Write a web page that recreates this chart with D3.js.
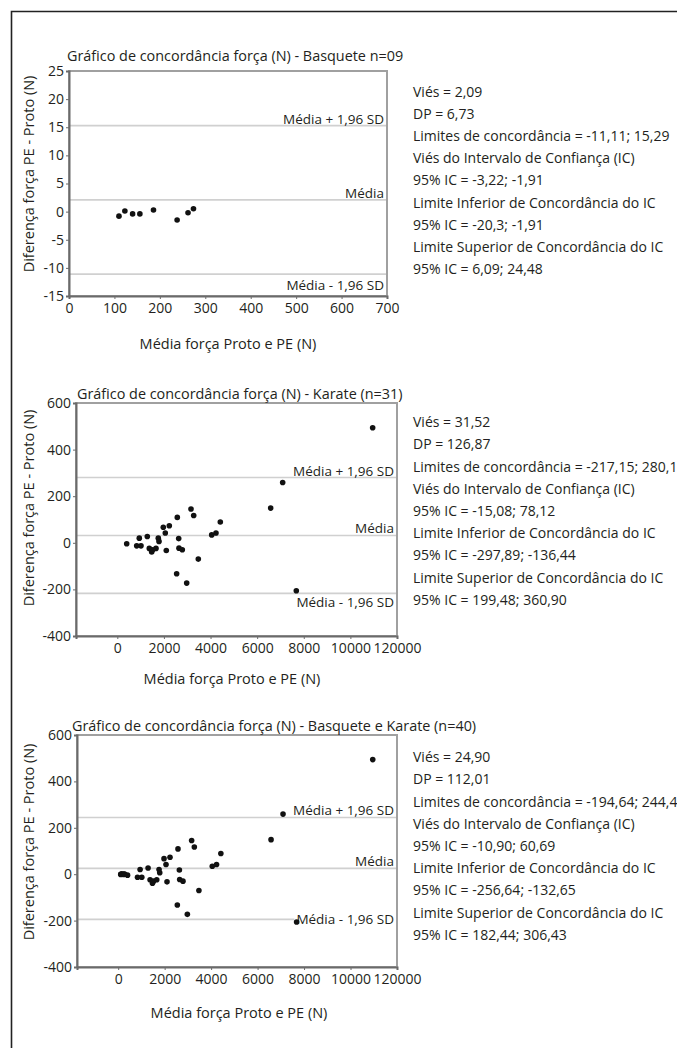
<!DOCTYPE html>
<html lang="pt">
<head>
<meta charset="UTF-8">
<title>Concordância força</title>
<script src="https://cdn.jsdelivr.net/npm/d3@7"></script>
<style>
  body { margin: 0; background: #fff; }
  svg text { font-family: "Open Sans", sans-serif; fill: #231f20; }
  .frame { fill: none; stroke: #a0a0a0; stroke-width: 2px; }
  .ref { stroke: #d0d0d0; stroke-width: 1.6px; }
  .dot { fill: #111; }
  .axis path, .axis line { stroke: #6a6a6a; }
  .axis path { stroke-width: 2px; }
  .axis text { font-size: 14px; font-family: "Open Sans", sans-serif; fill: #231f20; }
</style>
</head>
<body>
<svg id="main" width="677" height="1048"></svg>
<script>
// ---- data ----
// Basquete: media (N) / diferenca PE - Proto (N)
var basqX = [110, 123, 140, 156, 186, 238, 262, 274];
var basqY = [-0.8, 0.1, -0.4, -0.4, 0.3, -1.5, -0.2, 0.5];

// Karate
var karateX = [403, 832, 944, 1017, 1287, 1373, 1476, 1519, 1660, 1759, 1789,
               1973, 2059, 2102, 2231, 2574, 2634, 2647, 2789, 3162, 3278, 3475,
               2546, 2977, 4050, 4234, 4419, 6580, 7095, 7680, 10956];
var karateY = [-4, -13, 20, -13, 27, -24, -39, -30, -24, 20, 6,
               67, 42, -33, 73, 109, 18, -23, -30, 145, 117, -70,
               -133, -173, 34, 42, 89, 149, 259, -206, 494];

// Basquete e Karate juntos
var allX = basqX.concat(karateX);
var allY = basqY.concat(karateY);

// limites: [media - 1,96 SD, media, media + 1,96 SD]
var basqLimits = [-11.11, 2.09, 15.29];
var karateLimits = [-217.15, 31.52, 280.19];
var allLimits = [-194.64, 24.90, 244.44];

var basqXTicks = [0, 100, 200, 300, 400, 500, 600, 700];
var basqYTicks = [-15, -10, -5, 0, 5, 10, 15, 20, 25];
var karateXTicks = [0, 2000, 4000, 6000, 8000, 10000, 12000];
var karateXTickLabels = ["0", "2000", "4000", "6000", "8000", "10000", "120000"];
var karateYTicks = [-400, -200, 0, 200, 400, 600];

var refLabels = ["Média - 1,96 SD", "Média", "Média + 1,96 SD"];

var basqTitle = "Gráfico de concordância força (N) - Basquete n=09";
var karateTitle = "Gráfico de concordância força (N) - Karate (n=31)";
var allTitle = "Gráfico de concordância força (N) - Basquete e Karate (n=40)";

var yLabel = "Diferença força PE - Proto (N)";
var xLabel = "Média força Proto e PE (N)";

var basqStats = ["Viés = 2,09", "DP = 6,73", "Limites de concordância = -11,11; 15,29",
  "Viés do Intervalo de Confiança (IC)", "95% IC = -3,22; -1,91",
  "Limite Inferior de Concordância do IC", "95% IC = -20,3; -1,91",
  "Limite Superior de Concordância do IC", "95% IC = 6,09; 24,48"];
var karateStats = ["Viés = 31,52", "DP = 126,87", "Limites de concordância = -217,15; 280,19",
  "Viés do Intervalo de Confiança (IC)", "95% IC = -15,08; 78,12",
  "Limite Inferior de Concordância do IC", "95% IC = -297,89; -136,44",
  "Limite Superior de Concordância do IC", "95% IC = 199,48; 360,90"];
var allStats = ["Viés = 24,90", "DP = 112,01", "Limites de concordância = -194,64; 244,44",
  "Viés do Intervalo de Confiança (IC)", "95% IC = -10,90; 60,69",
  "Limite Inferior de Concordância do IC", "95% IC = -256,64; -132,65",
  "Limite Superior de Concordância do IC", "95% IC = 182,44; 306,43"];

var svg = d3.select("#main");

// page border (top + left, the rest is cut off)
svg.append("path")
   .attr("d", "M11.5,1048V11.5H677")
   .attr("fill", "none")
   .attr("stroke", "#222")
   .attr("stroke-width", 1.6);

// plain hyphen for negatives, like the original
var fmt = function(d) { return String(d); };

function drawPanel(p) {
    var x = d3.scaleLinear().domain(p.xDomain).range([p.left, p.right]);
    var y = d3.scaleLinear().domain(p.yDomain).range([p.bottom, p.top]);
    var g = svg.append("g");

    // reference lines
    g.selectAll(".ref").data(p.limits).enter().append("line")
       .attr("class", "ref")
       .attr("x1", p.left).attr("x2", p.right)
       .attr("y1", function(d) { return y(d); })
       .attr("y2", function(d) { return y(d); });

    g.append("rect").attr("class", "frame")
       .attr("x", p.left).attr("y", p.top)
       .attr("width", p.right - p.left).attr("height", p.bottom - p.top);

    // axes
    g.append("g").attr("class", "axis")
       .attr("transform", "translate(0," + p.bottom + ")")
       .call(d3.axisBottom(x).tickValues(p.xTicks).tickSizeOuter(0).tickSize(3).tickPadding(4)
             .tickFormat(function(d, i) { return p.xTickLabels ? p.xTickLabels[i] : fmt(d); }));
    g.append("g").attr("class", "axis")
       .attr("transform", "translate(" + p.left + ",0)")
       .call(d3.axisLeft(y).tickValues(p.yTicks).tickSizeOuter(0).tickSize(3).tickPadding(2)
             .tickFormat(fmt));

    // ref line labels
    var dys = [p.lowDy, -7, -7];
    var labels = g.append("g");
    refLabels.forEach(function(t, i) {
        var lbl = labels.append("text")
           .attr("x", p.right - 3)
           .attr("y", y(p.limits[i]) + dys[i])
           .attr("text-anchor", "end")
           .attr("dominant-baseline", "central")
           .style("font-size", "13.5px")
           .text(t);
        if (i === 0 && p.lowBox) {
            var bb = lbl.node().getBBox();
            labels.insert("rect", function() { return lbl.node(); })
               .attr("x", bb.x - 2).attr("y", bb.y + 2)
               .attr("width", bb.width + 4).attr("height", bb.height - 2)
               .attr("fill", "#fff");
        }
    });

    // points
    g.selectAll(".dot").data(p.xs).enter().append("circle")
       .attr("class", "dot")
       .attr("r", 2.8)
       .attr("cx", function(d) { return x(d); })
       .attr("cy", function(d, i) { return y(p.ys[i]); });

    // title
    g.append("text")
       .attr("x", p.titleX).attr("y", p.titleY)
       .attr("dominant-baseline", "central")
       .style("font-size", "14.4px")
       .text(p.title);

    // axis labels
    g.append("text")
       .attr("transform", "rotate(-90)")
       .attr("x", -p.yLabelY).attr("y", 28)
       .attr("text-anchor", "middle")
       .attr("dominant-baseline", "central")
       .style("font-size", "14.5px")
       .text(yLabel);
    g.append("text")
       .attr("x", p.xLabelX).attr("y", p.xLabelY)
       .attr("text-anchor", "middle")
       .attr("dominant-baseline", "central")
       .style("font-size", "14.5px")
       .text(xLabel);

    // stats block
    g.selectAll(".stat").data(p.stats).enter().append("text")
       .attr("x", 413)
       .attr("y", function(d, i) { return p.statsY + i * 22.2; })
       .attr("dominant-baseline", "central")
       .style("font-size", "14px")
       .text(function(d) { return d; });
}

drawPanel({
    left: 69, right: 387, top: 71, bottom: 296,
    xDomain: [0, 700], yDomain: [-15, 25],
    xTicks: basqXTicks, yTicks: basqYTicks,
    xs: basqX, ys: basqY, limits: basqLimits, lowDy: 11,
    title: basqTitle, titleX: 67, titleY: 55,
    yLabelY: 174, xLabelX: 228, xLabelY: 343,
    stats: basqStats, statsY: 91
});

drawPanel({
    left: 76, right: 397, top: 403, bottom: 636,
    xDomain: [-1772, 12000], yDomain: [-400, 600],
    xTicks: karateXTicks, xTickLabels: karateXTickLabels, yTicks: karateYTicks,
    xs: karateX, ys: karateY, limits: karateLimits, lowDy: 9,
    title: karateTitle, titleX: 77, titleY: 393,
    yLabelY: 508, xLabelX: 232, xLabelY: 678,
    stats: karateStats, statsY: 421.7
});

drawPanel({
    left: 77, right: 397, top: 735, bottom: 967,
    xDomain: [-1772, 12000], yDomain: [-400, 600],
    xTicks: karateXTicks, xTickLabels: karateXTickLabels, yTicks: karateYTicks,
    xs: allX, ys: allY, limits: allLimits, lowDy: 0, lowBox: true,
    title: allTitle, titleX: 72, titleY: 725,
    yLabelY: 842, xLabelX: 239, xLabelY: 1012,
    stats: allStats, statsY: 756.7
});
</script>
</body>
</html>
